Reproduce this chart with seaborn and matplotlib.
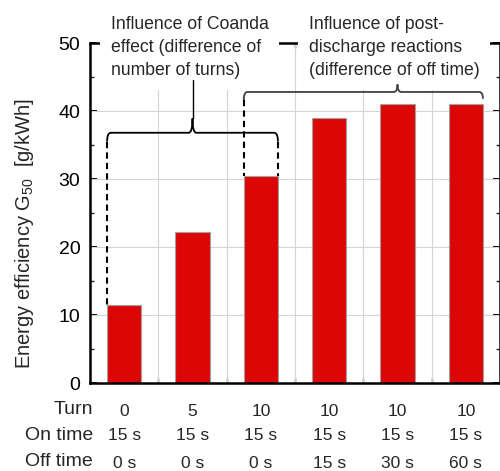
import matplotlib
matplotlib.use("Agg")
import matplotlib.pyplot as plt
from matplotlib.path import Path
from matplotlib.patches import PathPatch
import seaborn as sns
import pandas as pd

# Experimental conditions and measured energy efficiency
turns = ["0", "5", "10", "10", "10", "10"]
on_time = ["15 s", "15 s", "15 s", "15 s", "15 s", "15 s"]
off_time = ["0 s", "0 s", "0 s", "15 s", "30 s", "60 s"]
efficiency = [11.4, 22.2, 30.4, 39.0, 41.0, 41.0]

row_labels = ["Turn", "On time", "Off time"]
note_coanda = "Influence of Coanda\neffect (difference of\nnumber of turns)"
note_post = "Influence of post-\ndischarge reactions\n(difference of off time)"

sns.set_style("white")
plt.rcParams["font.family"] = ["Liberation Sans", "DejaVu Sans"]
plt.rcParams["mathtext.fontset"] = "custom"
plt.rcParams["mathtext.rm"] = "Liberation Sans"
plt.rcParams["mathtext.it"] = "Liberation Sans:italic"

df = pd.DataFrame({"case": list(range(len(efficiency))), "eff": efficiency})

W, H = 500, 471
fig = plt.figure(figsize=(W / 100, H / 100), dpi=100)
ax = fig.add_axes([90 / W, 1 - 383 / H, 410 / W, 340 / H])

sns.barplot(data=df, x="case", y="eff", color="#dd0606", width=0.5,
            saturation=1, edgecolor="#a0a0a0", linewidth=0.8, ax=ax, zorder=2)

ax.set_xlim(-0.5, len(efficiency) - 0.5)
ax.set_ylim(0, 50)
ax.set_yticks(range(0, 51, 10))
ax.set_yticks(range(5, 50, 10), minor=True)
ax.set_xticks(range(len(efficiency)))
ax.set_xticks([i + 0.5 for i in range(len(efficiency) - 1)], minor=True)
ax.set_xticklabels([])
ax.set_xlabel("")
ax.set_ylabel("")

ax.grid(False)
for i in range(len(efficiency) - 1):
    ax.axvline(i + 0.5, color="#d4d4d4", lw=0.8, zorder=1)
for v in range(10, 50, 10):
    ax.axhline(v, color="#d4d4d4", lw=0.8, zorder=1)

for side in ["left", "bottom", "top", "right"]:
    ax.spines[side].set_visible(True)
    ax.spines[side].set_color("black")
    ax.spines[side].set_linewidth(1.8)

ax.tick_params(axis="y", which="major", direction="in", length=5, width=1.4,
               left=True, right=True, labelsize=14, pad=7, colors="black")
ax.tick_params(axis="y", which="minor", direction="in", length=3, width=1.0,
               left=True, right=True)
ax.tick_params(axis="x", which="major", length=0)
ax.tick_params(axis="x", which="minor", direction="in", length=3.5, width=1.0,
               bottom=True, top=True)

fig.text(25 / W, 1 - 234 / H, "Energy efficiency G$_{50}$  [g/kWh]",
         rotation=90, ha="center", va="center", fontsize=14.5)

# Condition table below the bars
trans = matplotlib.transforms.blended_transform_factory(ax.transData, fig.transFigure)
row_y = [410, 435, 462]
for lab, yy in zip(row_labels, row_y):
    fig.text(93 / W, 1 - yy / H, lab, ha="right", va="center", fontsize=14)
for vals, yy in zip([turns, on_time, off_time], row_y):
    for i, v in enumerate(vals):
        ax.text(i, 1 - (yy + 1) / H, v, transform=trans, ha="center", va="center",
                fontsize=12.5, clip_on=False)


def brace(x0, x1, xt, yh, yend0, yend1, ytip, color, rx=0.055):
    verts = [(x0, yend0), (x0, yh), (x0 + rx, yh),
             (xt - rx, yh), (xt, yh), (xt, ytip),
             (xt, yh), (xt + rx, yh),
             (x1 - rx, yh), (x1, yh), (x1, yend1)]
    codes = [Path.MOVETO, Path.CURVE3, Path.CURVE3,
             Path.LINETO, Path.CURVE3, Path.CURVE3,
             Path.CURVE3, Path.CURVE3,
             Path.LINETO, Path.CURVE3, Path.CURVE3]
    ax.add_patch(PathPatch(Path(verts, codes), fc="none", ec=color, lw=1.3,
                           zorder=6, clip_on=False))


# Coanda-effect brace spanning cases 0..2
brace(-0.25, 2.25, 1.0, 36.8, 35.5, 35.5, 38.9, "black")
ax.plot([1.0, 1.0], [38.9, 44.6], color="black", lw=1.0, zorder=6, clip_on=False)
ax.plot([-0.25, -0.25], [35.5, efficiency[0]], color="black", lw=1.5,
        ls=(0, (3, 2)), zorder=6)
ax.plot([2.25, 2.25], [35.5, efficiency[2]], color="black", lw=1.5,
        ls=(0, (3, 2)), zorder=6)

# Post-discharge brace spanning cases 2..5
brace(1.75, 5.25, 4.0, 42.8, 41.6, 41.8, 43.9, "#404040")
ax.plot([1.75, 1.75], [41.6, efficiency[2]], color="black", lw=1.5,
        ls=(0, (3, 2)), zorder=6)

box = dict(boxstyle="square,pad=0.6", fc="white", ec="none")
ax.text(111 / W, 1 - 16 / H, note_coanda, transform=fig.transFigure,
        ha="left", va="top", fontsize=12.7, linespacing=1.48,
        bbox=box, zorder=5, clip_on=False)
ax.text(309 / W, 1 - 16 / H, note_post, transform=fig.transFigure,
        ha="left", va="top", fontsize=12.7, linespacing=1.48,
        bbox=box, zorder=5, clip_on=False)

fig.savefig("out.png", dpi=100)
